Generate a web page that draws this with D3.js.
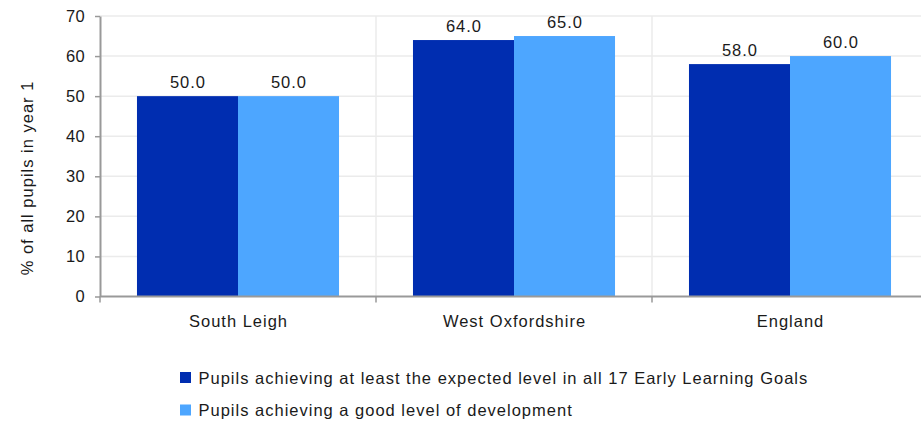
<!DOCTYPE html>
<html><head><meta charset="utf-8">
<script src="https://cdn.jsdelivr.net/npm/d3@7"></script>
<style>body{margin:0;background:#fff}svg{display:block;font-family:"Liberation Sans",Arial,sans-serif}svg text{letter-spacing:1px}</style>
</head><body><svg id="c" width="921" height="422"></svg>
<script>
const categories = ["South Leigh","West Oxfordshire","England"];
const seriesNames = ["Pupils achieving at least the expected level in all 17 Early Learning Goals","Pupils achieving a good level of development"];
const seriesA = [50.0, 64.0, 58.0];
const seriesB = [50.0, 65.0, 60.0];
const yTicks = [0,10,20,30,40,50,60,70];
const colors = ["#002db0","#4da6ff"];

(function(){
const svg = d3.select("#c");
const pl = 100, pr = 928, pt = 16, pb = 296.5;
const fs = 16.5;
const x = d3.scaleBand().domain(categories).range([pl, pr]).paddingInner(0).paddingOuter(0);
const y = d3.scaleLinear().domain([0,70]).range([pb, pt]);
const inner = d3.scaleBand().domain([0,1]).range([0, x.bandwidth()]).paddingOuter(0.366).paddingInner(0);

// gridlines
svg.append("g").selectAll("line").data(yTicks.filter(d=>d>0)).join("line")
  .attr("x1", pl).attr("x2", 921).attr("y1", d=>y(d)).attr("y2", d=>y(d))
  .attr("stroke","#ebebeb").attr("stroke-width",1.5);
svg.append("g").selectAll("line").data(categories.slice(1)).join("line")
  .attr("x1", d=>x(d)).attr("x2", d=>x(d)).attr("y1", pt).attr("y2", pb)
  .attr("stroke","#ebebeb").attr("stroke-width",1.5);

// bars
const data = categories.map((c,i)=>({c, vals:[seriesA[i], seriesB[i]]}));
const g = svg.append("g").selectAll("g").data(data).join("g").attr("transform", d=>`translate(${x(d.c)},0)`);
g.selectAll("rect").data(d=>d.vals.map((v,k)=>({v,k}))).join("rect")
  .attr("x", d=>inner(d.k)).attr("width", inner.bandwidth())
  .attr("y", d=>y(d.v)).attr("height", d=>y(0)-y(d.v)).attr("fill", d=>colors[d.k]);
g.selectAll("text").data(d=>d.vals.map((v,k)=>({v,k}))).join("text")
  .attr("x", d=>inner(d.k)+inner.bandwidth()/2+0.5).attr("y", d=>y(d.v)-8)
  .attr("text-anchor","middle").attr("font-size",fs).attr("fill","#1a1a1a")
  .text(d=>d.v.toFixed(1));

// y axis
const ya = svg.append("g").attr("transform",`translate(${pl},0)`)
  .call(d3.axisLeft(y).tickValues(yTicks).tickSize(5).tickPadding(10).tickSizeOuter(0));
ya.select(".domain").attr("stroke","#999").attr("stroke-width",2);
ya.selectAll(".tick line").attr("stroke","#999").attr("stroke-width",1.5);
ya.selectAll(".tick text").attr("font-size",16.5).attr("fill","#1a1a1a")
  .attr("font-family","Liberation Sans, Arial, sans-serif").style("letter-spacing","0.3px");

// x axis
svg.append("line").attr("x1",pl).attr("x2",921).attr("y1",pb).attr("y2",pb).attr("stroke","#999").attr("stroke-width",2);
svg.append("g").selectAll("line").data(categories).join("line")
  .attr("x1", d=>x(d)).attr("x2", d=>x(d)).attr("y1", pb).attr("y2", pb+6)
  .attr("stroke","#999").attr("stroke-width",1.5);
svg.append("g").selectAll("text").data(categories).join("text")
  .attr("x", d=>x(d)+x.bandwidth()/2+0.5).attr("y", 327)
  .attr("text-anchor","middle").attr("font-size",fs).attr("fill","#1a1a1a").text(d=>d);

// y title
svg.append("text").attr("transform",`translate(33,178) rotate(-90)`)
  .attr("text-anchor","middle").attr("font-size",fs).attr("fill","#1a1a1a").text("% of all pupils in year 1");

// legend
const lg = svg.append("g").selectAll("g").data(seriesNames).join("g")
  .attr("transform",(d,i)=>`translate(180,${372+i*32.5})`);
lg.append("rect").attr("width",11).attr("height",11).attr("fill",(d,i)=>colors[i]);
lg.append("text").attr("x",18.5).attr("y",11.5).attr("font-size",fs).attr("fill","#1a1a1a").text(d=>d);
})();
</script></body></html>
